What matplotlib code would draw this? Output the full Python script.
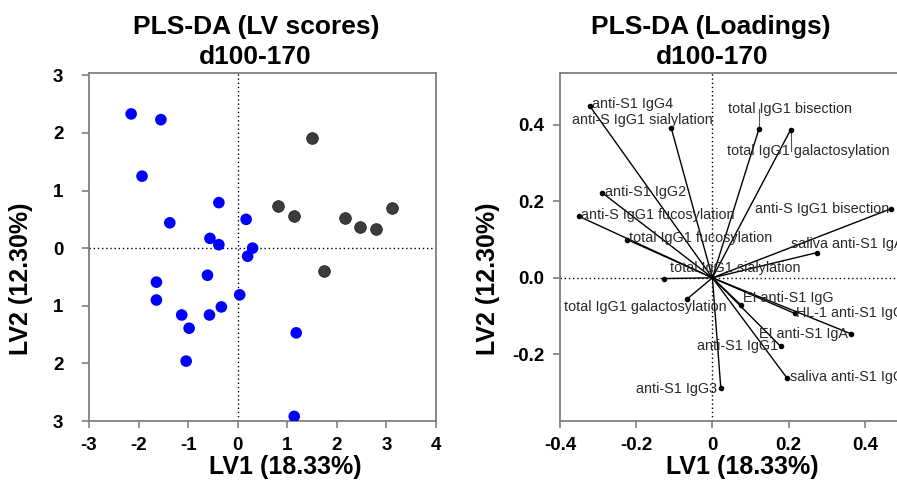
import matplotlib
matplotlib.use("Agg")
import matplotlib.pyplot as plt
import numpy as np

plt.rcParams["font.family"] = ["Liberation Sans", "DejaVu Sans"]
plt.rcParams["axes.unicode_minus"] = False

# LV scores (left panel)
blue_x = [-2.15, -1.55, -1.93, -0.38, -1.37, 0.17, -0.56, -0.38, 0.30, 0.20, -0.61,
          -1.64, -1.64, 0.04, -0.33, -1.13, -0.57, -0.98, 1.18, -1.04, 1.14]
blue_y = [2.33, 2.23, 1.25, 0.79, 0.44, 0.50, 0.17, 0.06, 0.00, -0.14, -0.47,
          -0.59, -0.90, -0.81, -1.02, -1.16, -1.16, -1.39, -1.47, -1.96, -2.92]
dark_x = [1.49, 0.82, 1.14, 2.17, 2.46, 2.78, 3.11, 1.75]
dark_y = [1.92, 0.74, 0.56, 0.52, 0.37, 0.33, 0.70, -0.39]

score_xticks = [-3, -2, -1, 0, 1, 2, 3, 4]
score_yticks = [-3, -2, -1, 0, 1, 2, 3]
score_ylabels = ["3", "2", "1", "0", "1", "2", "3"]

# Loadings (right panel)
load_names = [
    "anti-S1 IgG4", "anti-S IgG1 sialylation", "total IgG1 bisection",
    "total IgG1 galactosylation", "anti-S1 IgG2", "anti-S IgG1 fucosylation",
    "total IgG1 fucosylation", "anti-S IgG1 bisection", "saliva anti-S1 IgA",
    "total IgG1 sialylation", "total IgG1 galactosylation", "EI anti-S1 IgG",
    "HL-1 anti-S1 IgG", "EI anti-S1 IgA", "anti-S1 IgG1", "saliva anti-S1 IgG",
    "anti-S1 IgG3",
]
load_x = [-0.322, -0.108, 0.122, 0.205, -0.289, -0.351, -0.224, 0.470, 0.275,
          -0.128, -0.066, 0.076, 0.216, 0.363, 0.179, 0.196, 0.022]
load_y = [0.449, 0.391, 0.388, 0.386, 0.222, 0.161, 0.100, 0.181, 0.066,
          -0.002, -0.055, -0.072, -0.093, -0.146, -0.179, -0.262, -0.287]
label_x = [-0.317, -0.183, 0.203, 0.251, -0.176, -0.143, -0.030, 0.287, 0.205,
           0.059, -0.175, 0.200, 0.220, 0.238, 0.066, 0.203, -0.095]
label_y = [0.454, 0.413, 0.440, 0.331, 0.223, 0.164, 0.103, 0.181, 0.088,
           0.026, -0.076, -0.054, -0.093, -0.146, -0.179, -0.259, -0.290]
label_ha = ["left", "center", "center", "center", "center", "center", "center",
            "center", "left", "center", "center", "center", "left", "center",
            "center", "left", "center"]
leader = [False, False, True, True, False, False, False, False, False,
          False, False, False, False, False, False, False, False]

load_xticks = [-0.4, -0.2, 0, 0.2, 0.4]
load_xlabels = ["-0.4", "-0.2", "0", "0.2", "0.4"]
load_yticks = [-0.2, 0.0, 0.2, 0.4]
load_ylabels = ["-0.2", "0.0", "0.2", "0.4"]

W, H = 897, 483
SPINE = "#7f7f7f"


def style_axes(ax, ypad):
    for side in ["top", "right", "bottom", "left"]:
        ax.spines[side].set_color(SPINE)
        ax.spines[side].set_linewidth(1.3)
    ax.tick_params(axis="both", direction="out", length=5, width=1.2, color=SPINE,
                   labelsize=13.5)
    ax.tick_params(axis="x", pad=6.5)
    ax.tick_params(axis="y", pad=ypad)
    for lab in ax.get_xticklabels() + ax.get_yticklabels():
        lab.set_fontweight("bold")


fig = plt.figure(figsize=(W / 100, H / 100), dpi=100)

# ---- left: scores ----
ax1 = fig.add_axes([89 / W, 1 - 421 / H, 347 / W, 348 / H])
ax1.axvline(0, color="black", linestyle=(0, (1, 2)), linewidth=1, zorder=1)
ax1.axhline(0, color="black", linestyle=(0, (1, 2)), linewidth=1, zorder=1)
ax1.scatter(blue_x, blue_y, s=70, color="#0000ff", edgecolors="none", zorder=3)
ax1.scatter(dark_x, dark_y, s=70, color="#3c3c3c", edgecolors="#222222",
            linewidths=0.6, zorder=3)
ax1.set_xlim(-3, 4)
ax1.set_ylim(-3, 3.04)
ax1.set_xticks(score_xticks)
ax1.set_yticks(score_yticks)
ax1.set_yticklabels(score_ylabels)
style_axes(ax1, 13.5)
ax1.set_xlabel("LV1 (18.33%)", fontsize=18, fontweight="bold")
ax1.set_ylabel("LV2 (12.30%)", fontsize=18, fontweight="bold")
ax1.xaxis.set_label_coords(0.565, -0.098)
ax1.yaxis.set_label_coords(-0.161, 0.41)

# ---- right: loadings ----
ax2 = fig.add_axes([560 / W, 1 - 421 / H, 362 / W, 348 / H])
ax2.axvline(0, color="black", linestyle=(0, (1, 2)), linewidth=1, zorder=1)
ax2.axhline(0, color="black", linestyle=(0, (1, 2)), linewidth=1, zorder=1)
for i, name in enumerate(load_names):
    ax2.plot([0, load_x[i]], [0, load_y[i]], color="black", linewidth=1, zorder=2)
    ax2.plot(load_x[i], load_y[i], "o", color="black", markersize=3, zorder=3)
    ax2.text(label_x[i], label_y[i], name, fontsize=10.4, color="#2a2a2a",
             ha=label_ha[i], va="center", zorder=4)
    if leader[i]:
        ax2.plot([load_x[i], load_x[i]], [load_y[i], label_y[i]], color="#555555",
                 linewidth=0.8, zorder=2)
ax2.set_xlim(-0.4, -0.4 + 362 / 381)
ax2.set_ylim(-0.374, 0.535)
ax2.set_xticks(load_xticks)
ax2.set_xticklabels(load_xlabels)
ax2.set_yticks(load_yticks)
ax2.set_yticklabels(load_ylabels)
style_axes(ax2, 6)
ax2.set_xlabel("LV1 (18.33%)", fontsize=18, fontweight="bold")
ax2.set_ylabel("LV2 (12.30%)", fontsize=18, fontweight="bold")
ax2.xaxis.set_label_coords(0.503, -0.098)
ax2.yaxis.set_label_coords(-0.166, 0.41)

# titles
fig.text(256 / W, 1 - 27 / H, "PLS-DA (LV scores)", fontsize=19, fontweight="bold",
         ha="center", va="center")
fig.text(255 / W, 1 - 57 / H, "d100-170", fontsize=19, fontweight="bold",
         ha="center", va="center")
fig.text(711 / W, 1 - 27 / H, "PLS-DA (Loadings)", fontsize=19, fontweight="bold",
         ha="center", va="center")
fig.text(712 / W, 1 - 57 / H, "d100-170", fontsize=19, fontweight="bold",
         ha="center", va="center")

fig.savefig("out.png", dpi=100)
